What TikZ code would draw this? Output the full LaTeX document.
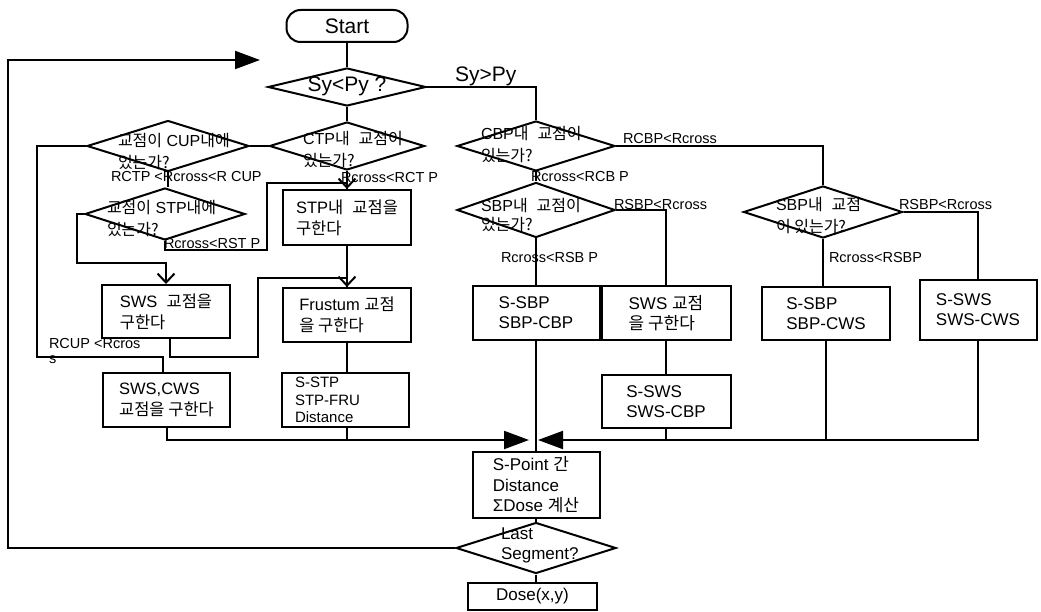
\documentclass[tikz,border=0pt]{standalone}
\usepackage{fontspec}
\setmainfont{Liberation Sans}
\newfontfamily\krfont{Noto Sans CJK KR}
\newcommand{\kr}[1]{{\krfont #1}}
\usetikzlibrary{shapes.geometric,arrows.meta}

\begin{document}
\begin{tikzpicture}[x=1pt, y=-1pt, line width=2pt,
    box/.style = {draw, rectangle, inner sep=0pt, align=left, minimum width=128pt, minimum height=54pt, font=\fontsize{16.5}{21}\selectfont},
    rbox/.style = {box, font=\fontsize{17}{20}\selectfont},
    dia/.style = {draw, diamond, inner sep=0pt},
    dtxt/.style = {inner sep=0pt, anchor=west, align=left, font=\fontsize{16}{22}\selectfont},
    lab/.style = {inner sep=0pt, anchor=west, font=\fontsize{14.5}{14.5}\selectfont},
    big/.style = {-{Triangle[length=25pt,width=18pt]}},
    barb/.style = {-{Straight Barb[length=9pt,width=17pt]}}]
        \useasboundingbox (0,0) rectangle (1041,612);
        % left and middle column
        \node[draw, rounded corners=14pt, minimum width=121pt, minimum height=32pt, font=\fontsize{21}{21}\selectfont] (start) at (347,26) {Start};
        \node[dia, minimum width=158pt, minimum height=38pt] (cmp) at (347,87) {};
        \node[inner sep=0pt, font=\fontsize{21}{21}\selectfont] (cmptxt) at (347,86) {Sy<Py ?};
        \node[dia, minimum width=155pt, minimum height=48pt] (ctp) at (347,146) {};
        \node[dtxt] (ctptxt) at (302,149.5) {CTP\kr{내}\ \ \kr{교점이}\\\kr{있는가?}};
        \node[dia, minimum width=162pt, minimum height=51pt] (cup) at (168,146) {};
        \node[dtxt] (cuptxt) at (117,151.5) {\kr{교점이} CUP\kr{내에}\\\kr{있는가?}};
        \node[dia, minimum width=160pt, minimum height=52pt] (stp) at (165,214) {};
        \node[dtxt] (stptxt) at (106,219) {\kr{교점이} STP\kr{내에}\\\kr{있는가?}};
        \node[box, minimum height=55pt] (stpbox) at (347,217.5) {STP\kr{내}\ \ \kr{교점을}\\\kr{구한다}};
        \node[box] (frbox) at (347,315) {Frustum \kr{교점}\\\kr{을 구한다}};
        \node[box, minimum height=53pt] (sws) at (166,311.5) {SWS\ \ \kr{교점을}\\\kr{구한다}};
        \node[box, minimum width=127pt] (swscws) at (166.5,400) {SWS,CWS\\\kr{교점을 구한다}};
        \node[box, minimum width=127pt, text width=100pt, font=\fontsize{15}{17.5}\selectfont] (sstp) at (345,400) {S-STP\\STP-FRU\\Distance};
        % right columns
        \node[dia, minimum width=158pt, minimum height=50pt] (cbp) at (536,146) {};
        \node[dtxt] (cbptxt) at (480,145) {CBP\kr{내}\ \ \kr{교점이}\\\kr{있는가?}};
        \node[dia, minimum width=158pt, minimum height=55pt] (sbp) at (536,210) {};
        \node[dtxt, font=\fontsize{16}{19}\selectfont] (sbptxt) at (480,215) {SBP\kr{내}\ \ \kr{교점이}\\\kr{있는가?}};
        \node[rbox, minimum width=127pt] (ssbp) at (536,313) {S-SBP\\SBP-CBP};
        \node[rbox, minimum width=129pt] (swsb) at (666,313) {SWS \kr{교점}\\\kr{을 구한다}};
        \node[rbox, minimum width=129pt, minimum height=53pt] (ssws) at (666,401.5) {S-SWS\\SWS-CBP};
        \node[dia, minimum width=159pt, minimum height=52pt] (sbpc) at (823,212) {};
        \node[dtxt] (sbpctxt) at (775,216) {SBP\kr{내}\ \ \kr{교점}\\\kr{이 있는가?}};
        \node[rbox, minimum height=53pt] (ssbpc) at (826,313.5) {S-SBP\\SBP-CWS};
        \node[rbox, minimum width=117pt, minimum height=60pt] (sswsc) at (978,310) {S-SWS\\SWS-CWS};
        % bottom
        \node[box, minimum width=127pt, minimum height=66pt, font=\fontsize{17}{20.5}\selectfont] (spoint) at (536,485) {S-Point \kr{간}\\Distance\\ΣDose \kr{계산}};
        \node[dia, minimum width=160pt, minimum height=51pt] (last) at (536,548) {};
        \node[dtxt, font=\fontsize{17}{20}\selectfont] (lasttxt) at (500,545) {Last\\Segment?};
        \node[box, minimum width=129pt, minimum height=27pt, font=\fontsize{17}{17}\selectfont] (dose) at (532.5,596.5) {Dose(x,y)};
        \coordinate (loopend) at (260,60);
        \coordinate (mergel) at (529,440);
        \coordinate (merger) at (538,440);
        % labels
        \node[lab, font=\fontsize{21}{21}\selectfont] (gt) at (454,76) {Sy>Py};
        \node[lab] (cuplab) at (110,177) {RCTP <Rcross<R CUP};
        \node[lab] (ctplab) at (340,178) {Rcross<RCT P};
        \node[lab] (stplab) at (163,244) {Rcross<RST P};
        \node[lab, align=left, font=\fontsize{14.5}{15}\selectfont] (cupout) at (48,351) {RCUP <Rcros\\s};
        \node[lab] (cbpout) at (622,139) {RCBP<Rcross};
        \node[lab] (cbplab) at (530,177) {Rcross<RCB P};
        \node[lab] (sbpout) at (613,205) {RSBP<Rcross};
        \node[lab] (sbplab) at (500,258) {Rcross<RSB P};
        \node[lab] (sbpcout) at (898,205) {RSBP<Rcross};
        \node[lab] (sbpclab) at (828,258) {Rcross<RSBP};
        % connectors
        \draw (start.south) -- (cmp.north);
        \draw[big] (last.west) -| (8,60) -- (loopend);
        \draw (cmp.east) -| (cbp.north);
        \draw (cmp.south) -- (ctp.north);
        \draw (ctp.west) -- (cup.east);
        \draw (cup.west) -| (37,357) -| ([xshift=-4pt]swscws.north);
        \draw (cup.south) -- (cup.south |- stp.north);
        \draw[barb] (stp.west) -| (77,263) -| (sws.north);
        \draw[barb] (stp.south) |- (267,250) -- (267,183) -| (stpbox.north);
        \draw (ctp.south) -- (stpbox.north);
        \draw (stpbox.south) -- (frbox.north);
        \draw[barb] ([xshift=4pt]sws.south) |- (258,357) -- (258,278) -| (frbox.north);
        \draw (frbox.south) -- (frbox.south |- sstp.north);
        \draw[big] (swscws.south) |- (mergel);
        \draw (frbox.south |- sstp.south) -- (frbox.south |- mergel);
        \draw (cbp.south) -- (sbp.north);
        \draw (cbp.east) -| (sbpc.north);
        \draw (sbp.east) -| (swsb.north);
        \draw (sbp.south) -- (ssbp.north);
        \draw (ssbp.south) -- (spoint.north);
        \draw (swsb.south) -- (ssws.north);
        \draw (ssws.south) -- (ssws.south |- merger);
        \draw (sbpc.south) -- (sbpc.south |- ssbpc.north);
        \draw (sbpc.east) -| (sswsc.north);
        \draw (ssbpc.south) -- (ssbpc.south |- merger);
        \draw[big] (sswsc.south) |- (merger);
        \draw (spoint.south) -- (last.north);
        \draw (last.south) -- (last.south |- dose.north);
    \end{tikzpicture}
\end{document}
